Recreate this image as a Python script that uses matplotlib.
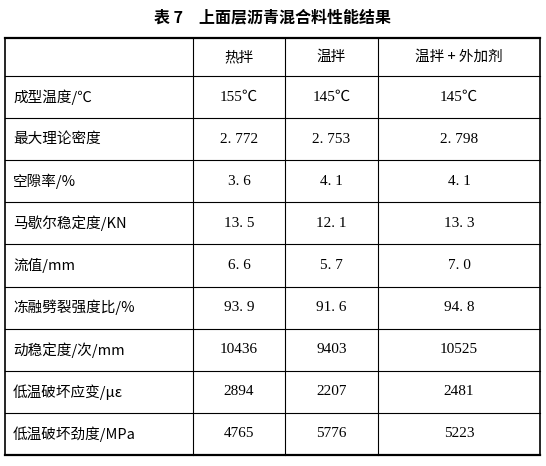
import matplotlib
matplotlib.use("Agg")
import matplotlib.pyplot as plt

title = "表 7　上面层沥青混合料性能结果"
headers = ["", "热拌", "温拌", "温拌 + 外加剂"]
row_labels = ["成型温度/℃", "最大理论密度", "空隙率/%", "马歇尔稳定度/KN", "流值/mm",
              "冻融劈裂强度比/%", "动稳定度/次/mm", "低温破坏应变/με", "低温破坏劲度/MPa"]
hot = ["155℃", "2. 772", "3. 6", "13. 5", "6. 6", "93. 9", "10436", "2894", "4765"]
warm = ["145℃", "2. 753", "4. 1", "12. 1", "5. 7", "91. 6", "9403", "2207", "5776"]
warm_add = ["145℃", "2. 798", "4. 1", "13. 3", "7. 0", "94. 8", "10525", "2481", "5223"]

fam = ['Noto Sans CJK SC', 'DejaVu Sans']
numfam = ['Liberation Serif', 'Noto Sans CJK SC']

fig = plt.figure(figsize=(5.46, 4.66), dpi=100)
ax = fig.add_axes([0, 0, 1, 1])
ax.set_xlim(0, 546); ax.set_ylim(466, 0); ax.axis('off')

ax.text(273, 18, title, ha='center', va='center', fontsize=11.5, fontweight='bold', family=fam)

xs = [5, 193, 285, 378, 540]
top, head_bot, bot = 38, 76, 455
n = len(row_labels)
rh = (bot - head_bot) / n
ys = [top, head_bot] + [head_bot + rh * (i + 1) for i in range(n)]

ax.plot([xs[0], xs[-1]], [top, top], color='black', lw=1.6)
ax.plot([xs[0], xs[-1]], [bot, bot], color='black', lw=1.6)
for y in ys[1:-1]:
    ax.plot([xs[0], xs[-1]], [y, y], color='black', lw=0.8)
for i, x in enumerate(xs):
    ax.plot([x, x], [top, bot], color='black', lw=1.2 if i in (0, len(xs) - 1) else 0.8)

for j, h in enumerate(headers):
    if h:
        ax.text((xs[j] + xs[j + 1]) / 2, (top + head_bot) / 2, h, ha='center', va='center',
                fontsize=10.5, family=fam)

cols = [hot, warm, warm_add]
for i, lab in enumerate(row_labels):
    yc = head_bot + rh * (i + 0.5)
    ax.text(13, yc, lab, ha='left', va='center', fontsize=10.5, family=fam)
    for j, col in enumerate(cols):
        ax.text((xs[j + 1] + xs[j + 2]) / 2, yc, col[i], ha='center', va='center',
                fontsize=11, family=numfam)

fig.savefig("out.png", dpi=100)
